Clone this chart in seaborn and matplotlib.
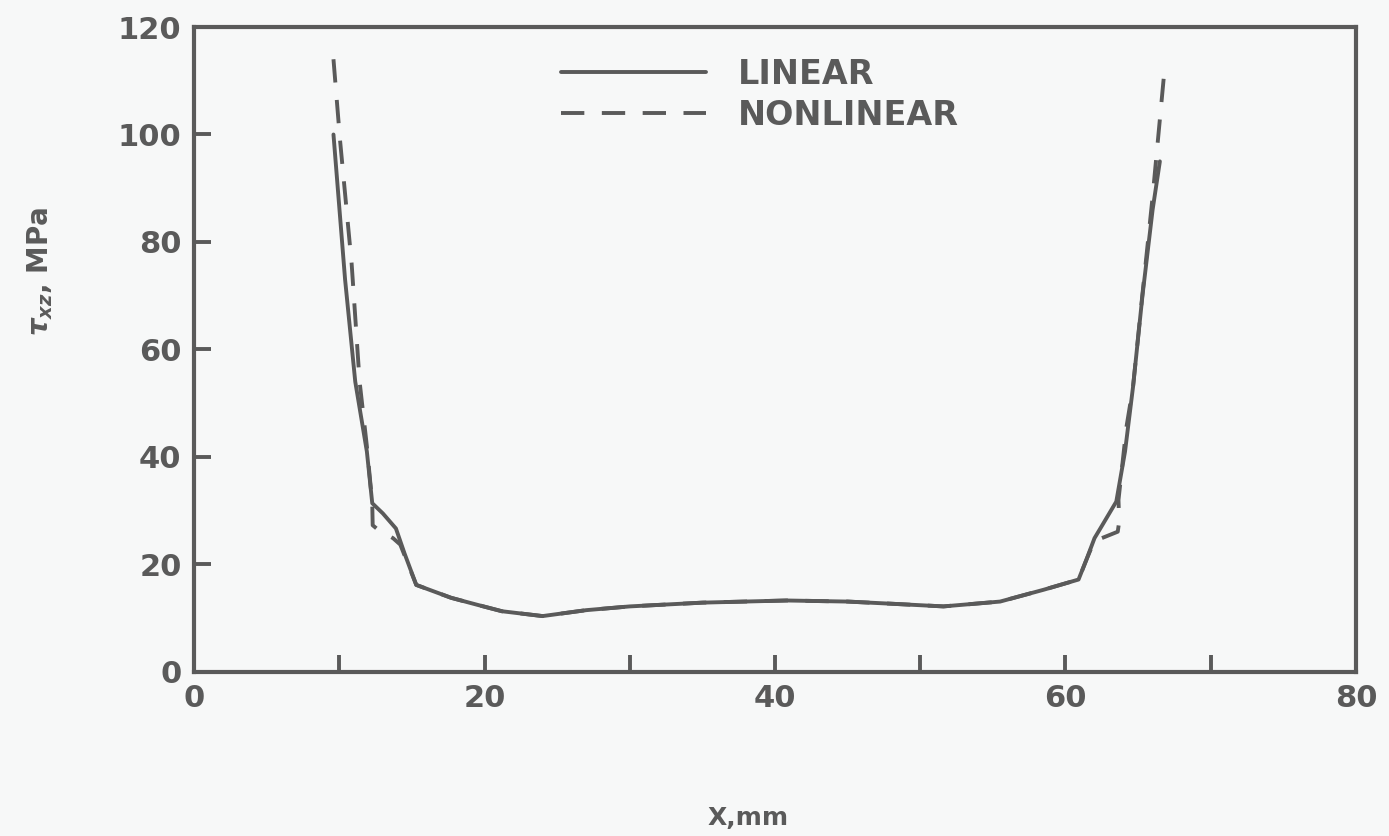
import matplotlib
matplotlib.use("Agg")
import matplotlib.pyplot as plt
import seaborn as sns
import pandas as pd

# Shear stress distribution along the specimen (MPa vs mm)
linear_x = [9.6, 10.4, 11.1, 11.9, 12.27, 13.0, 13.9, 14.5, 15.3, 16.5, 17.7, 19.5,
            21.2, 24.0, 27.0, 30.0, 35.0, 40.8, 45.0, 48.0, 51.6, 55.5, 58.5, 60.9,
            61.4, 62.0, 62.4, 63.5, 64.1, 64.65, 65.3, 66.0, 66.5]
linear_y = [100.0, 73.0, 54.0, 41.0, 31.4, 29.5, 26.7, 22.0, 16.2, 15.0, 13.8, 12.5,
            11.3, 10.4, 11.5, 12.2, 12.9, 13.3, 13.1, 12.7, 12.2, 13.1, 15.3, 17.2,
            20.6, 24.9, 26.7, 31.7, 41.0, 53.0, 70.0, 86.0, 95.0]

nonlinear_x = [9.6, 10.05, 10.85, 11.4, 11.9, 12.27, 12.3, 12.7, 13.7, 14.2, 15.3, 16.5,
               17.7, 19.5, 21.2, 24.0, 27.0, 30.0, 35.0, 40.8, 45.0, 48.0, 51.6, 55.5,
               58.5, 60.9, 61.4, 62.0, 62.5, 63.6, 63.7, 63.65, 64.2, 64.65, 65.3, 66.0, 66.8]
nonlinear_y = [114.0, 99.0, 76.0, 54.0, 42.0, 31.4, 27.3, 26.4, 24.9, 23.7, 16.2, 15.0,
               13.8, 12.5, 11.3, 10.4, 11.5, 12.2, 12.9, 13.3, 13.1, 12.7, 12.2, 13.1,
               15.3, 17.2, 20.6, 24.5, 24.9, 26.1, 28.0, 32.0, 45.6, 53.0, 70.3, 88.4, 111.5]

series_names = ["LINEAR", "NONLINEAR"]
x_major = [0, 20, 40, 60, 80]
x_minor = [10, 30, 50, 70]
y_major = [0, 20, 40, 60, 80, 100, 120]

ink = "#5a5a5a"
paper = "#f7f8f8"
dash_pattern = (6, 4.5)

sns.set_style("white")
plt.rcParams["font.family"] = ["DejaVu Sans"]
plt.rcParams["font.weight"] = "bold"
plt.rcParams["mathtext.fontset"] = "dejavusans"

df = pd.concat([
    pd.DataFrame({"x": linear_x, "y": linear_y, "case": series_names[0]}),
    pd.DataFrame({"x": nonlinear_x, "y": nonlinear_y, "case": series_names[1]}),
], ignore_index=True)

fig = plt.figure(figsize=(13.89, 8.36), dpi=100, facecolor=paper)
ax = fig.add_axes([0.1397, 0.1962, 0.9762 - 0.1397, 0.9677 - 0.1962])
ax.set_facecolor(paper)

# keep the point order of each curve (the kinks double back in x)
sns.lineplot(data=df, x="x", y="y", hue="case", style="case",
             estimator=None, sort=False, ax=ax,
             palette={series_names[0]: ink, series_names[1]: ink},
             dashes={series_names[0]: "", series_names[1]: dash_pattern},
             linewidth=2.8, legend=False)

ax.set_xlim(0, 80)
ax.set_ylim(0, 120)
ax.set_xticks(x_major)
ax.set_xticks(x_minor, minor=True)
ax.set_yticks(y_major)
ax.tick_params(axis="both", which="both", direction="in", length=12, width=2.8,
               color=ink, labelcolor=ink, labelsize=22, pad=9,
               bottom=True, left=True)
for lab in ax.get_xticklabels() + ax.get_yticklabels():
    lab.set_fontweight("bold")
for sp in ax.spines.values():
    sp.set_color(ink)
    sp.set_linewidth(3)
ax.set_xlabel("")
ax.set_ylabel("")

handles = ax.get_lines()[:2]
leg = fig.legend(handles, series_names, loc="upper left",
                 bbox_to_anchor=(0.392, 0.951), frameon=False, borderpad=0,
                 handlelength=4.35, handletextpad=0.95, labelspacing=0.24,
                 prop={"size": 24, "weight": "bold"})
for t in leg.get_texts():
    t.set_color(ink)

fig.text(0.5385, 0.0215, "X,mm", ha="center", va="center", fontsize=18,
         fontweight="bold", color=ink)
fig.text(0.029, 0.675, r"$\tau_{xz}$, MPa", rotation=90, ha="center", va="center",
         fontsize=20, fontweight="bold", color=ink)

fig.savefig("out.png", dpi=100, facecolor=paper)
